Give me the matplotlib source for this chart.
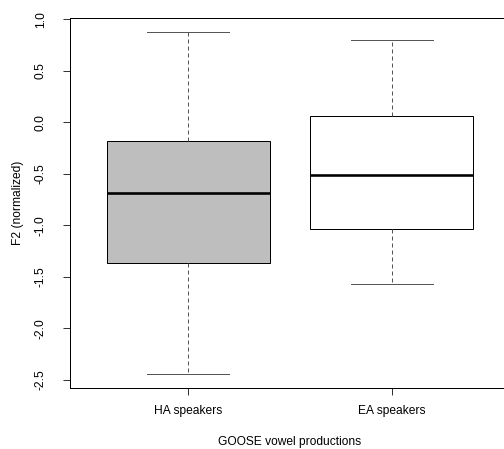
import matplotlib
matplotlib.use("Agg")
import matplotlib.pyplot as plt

# boxplot summaries (R style boxplot)
groups = ["HA speakers", "EA speakers"]
medians = [-0.685, -0.51]
q1 = [-1.365, -1.03]
q3 = [-0.18, 0.065]
whis_lo = [-2.445, -1.565]
whis_hi = [0.875, 0.795]
fills = ["#BEBEBE", "white"]
yticks = [-2.5, -2.0, -1.5, -1.0, -0.5, 0.0, 0.5, 1.0]

plt.rcParams['font.family'] = ['Liberation Sans', 'DejaVu Sans']
plt.rcParams['font.size'] = 12
plt.rcParams['axes.unicode_minus'] = False

fig = plt.figure(figsize=(504 / 72, 449 / 72), dpi=72)
# plot region runs a little past the right edge, like the cropped R device
ax = fig.add_axes([70 / 504, 1 - 388 / 449, 440 / 504, 370 / 449])

stats = []
for i, g in enumerate(groups):
    stats.append(dict(label=g, med=medians[i], q1=q1[i], q3=q3[i],
                      whislo=whis_lo[i], whishi=whis_hi[i], fliers=[]))

bp = ax.bxp(stats, positions=[1, 2], widths=0.8, capwidths=0.4,
            patch_artist=True, showfliers=False,
            boxprops=dict(edgecolor="black", linewidth=1),
            medianprops=dict(color="black", linewidth=2.6, solid_capstyle="butt"),
            whiskerprops=dict(color="#555555", linewidth=1, linestyle=(0, (4, 3))),
            capprops=dict(color="#555555", linewidth=1))
for patch, c in zip(bp["boxes"], fills):
    patch.set_facecolor(c)

ax.set_xlim(0.42, 2.58)
ax.set_ylim(-2.578, 1.013)
ax.set_yticks(yticks)
ax.set_yticklabels(["%.1f" % v for v in yticks])
ax.tick_params(axis="y", length=7, pad=16, labelrotation=90)
ax.tick_params(axis="x", length=7, pad=10)
for lab in ax.get_yticklabels():
    lab.set_va("center")

for s in ax.spines.values():
    s.set_linewidth(1)

ax.set_ylabel("F2 (normalized)", fontsize=12, va="center")
ax.yaxis.set_label_coords(-52 / 440, 0.5)
ax.set_xlabel("GOOSE vowel productions", fontsize=12, va="center")
ax.xaxis.set_label_coords(0.5, -54 / 370)

fig.savefig("out.png", dpi=72)
